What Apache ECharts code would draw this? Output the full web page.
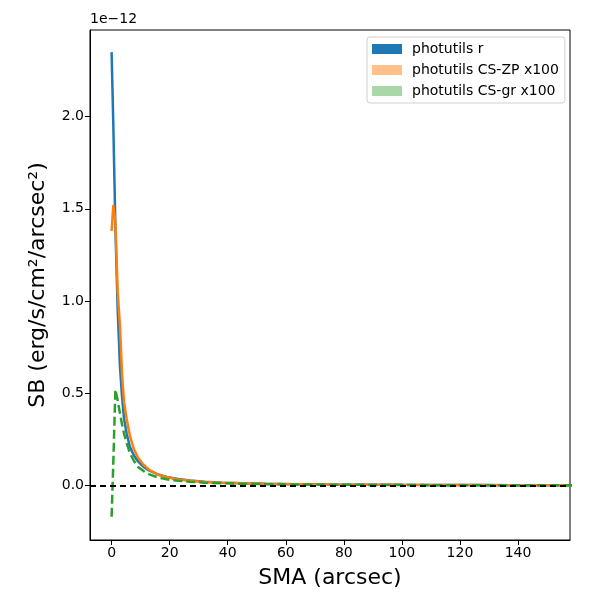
<!DOCTYPE html>
<html>
<head>
<meta charset="utf-8">
<script src="https://cdn.jsdelivr.net/npm/echarts@6/dist/echarts.min.js"></script>
<style>html,body{margin:0;padding:0;background:#fff}#c{width:600px;height:600px}</style>
</head>
<body>
<div id="c"></div>
<script>
// SMA (arcsec)
const sma = [0, 0.6, 1.3, 2.1, 2.9, 3.6, 4.3, 5.2, 6.3, 7.6, 9.1, 11, 13, 16, 19, 23, 27, 32, 38, 45, 53, 63, 75, 88, 100, 112, 125, 138, 150, 162];
// SB in units of 1e-12
const sbR = [2.35, 1.95, 1.40, 0.95, 0.64, 0.48, 0.36, 0.28, 0.21, 0.165, 0.13, 0.10, 0.08, 0.060, 0.046, 0.035, 0.027, 0.020, 0.015, 0.012, 0.009, 0.007, 0.005, 0.004, 0.003, 0.0025, 0.002, 0.0015, 0.001, 0.001];
const sbZP = [1.38, 1.52, 1.43, 1.05, 0.86, 0.60, 0.45, 0.36, 0.27, 0.20, 0.15, 0.112, 0.084, 0.058, 0.044, 0.032, 0.025, 0.019, 0.015, 0.012, 0.009, 0.007, 0.005, 0.004, 0.003, 0.0025, 0.002, 0.0015, 0.001, 0.001];
const sbGR = [-0.17, 0.13, 0.52, 0.46, 0.39, 0.33, 0.28, 0.23, 0.175, 0.135, 0.10, 0.078, 0.060, 0.043, 0.033, 0.025, 0.020, 0.015, 0.012, 0.009, 0.007, 0.005, 0.004, 0.003, 0.002, 0.0015, 0.001, 0.001, 0.0005, 0.0005];
const seriesNames = ['photutils r', 'photutils CS-ZP x100', 'photutils CS-gr x100'];
const xTicks = [0, 20, 40, 60, 80, 100, 120, 140];
const yTicks = [0, 0.5, 1.0, 1.5, 2.0];

const pairs = ys => sma.map((x, i) => [x, ys[i]]);
const font = 'DejaVu Sans';
const chart = echarts.init(document.getElementById('c'), null, {renderer: 'canvas'});
chart.setOption({
  animation: false,
  backgroundColor: '#fff',
  textStyle: {fontFamily: font},
  grid: {left: 90, right: 30, top: 30, bottom: 60, show: true, borderColor: '#000', borderWidth: 1},
  graphic: [{type: 'text', left: 90, top: 12, style: {text: '1e\u221212', font: '14px "DejaVu Sans"', fill: '#000'}}],
  legend: {
    orient: 'vertical', left: 367, top: 37,
    icon: 'rect', itemWidth: 30, itemHeight: 10, itemGap: 7,
    padding: [5, 6, 5, 5],
    borderColor: '#d0d0d0', borderWidth: 1, borderRadius: 3, backgroundColor: '#fff',
    textStyle: {fontFamily: font, fontSize: 14, color: '#000', padding: [0, 0, 0, 5]},
    data: [
      {name: seriesNames[0], itemStyle: {color: '#1f77b4'}},
      {name: seriesNames[1], itemStyle: {color: '#ffc08a'}},
      {name: seriesNames[2], itemStyle: {color: '#a8d8a8'}}
    ]
  },
  xAxis: {
    type: 'value', min: -7.44, max: 157.9,
    name: 'SMA (arcsec)', nameLocation: 'middle', nameGap: 27,
    nameTextStyle: {fontFamily: font, fontSize: 22, color: '#000'},
    splitLine: {show: false},
    axisLine: {show: true, onZero: false, lineStyle: {color: '#000', width: 1}},
    axisTick: {show: true, inside: false, length: 5, customValues: xTicks, lineStyle: {color: '#000'}},
    axisLabel: {customValues: xTicks, color: '#000', fontFamily: font, fontSize: 14, margin: 6}
  },
  yAxis: {
    type: 'value', min: -0.296, max: 2.47,
    name: 'SB (erg/s/cm\u00b2/arcsec\u00b2)', nameLocation: 'middle', nameGap: 41, nameRotate: 90,
    nameTextStyle: {fontFamily: font, fontSize: 22, color: '#000'},
    splitLine: {show: false},
    axisLine: {show: true, onZero: false, lineStyle: {color: '#000', width: 1}},
    axisTick: {show: true, inside: false, length: 5, customValues: yTicks, lineStyle: {color: '#000'}},
    axisLabel: {customValues: yTicks, color: '#000', fontFamily: font, fontSize: 14, margin: 6, formatter: v => v.toFixed(1)}
  },
  series: [
    {name: seriesNames[0], type: 'line', data: pairs(sbR), showSymbol: false, symbol: 'none', clip: true,
     lineStyle: {color: '#1f77b4', width: 2.5}, itemStyle: {color: '#1f77b4'}, z: 2,
     markLine: {silent: true, symbol: 'none', label: {show: false},
       lineStyle: {color: '#000', type: [6, 4], width: 1.8}, data: [{yAxis: 0}]}},
    {name: seriesNames[1], type: 'line', data: pairs(sbZP), showSymbol: false, symbol: 'none', clip: true,
     lineStyle: {color: '#ff7f0e', width: 2.5}, itemStyle: {color: '#ff7f0e'}, z: 3},
    {name: seriesNames[2], type: 'line', data: pairs(sbGR), showSymbol: false, symbol: 'none', clip: true,
     lineStyle: {color: '#2ca02c', width: 2.5, type: [9, 4]}, itemStyle: {color: '#2ca02c'}, z: 4}
  ]
});
</script>
</body>
</html>
